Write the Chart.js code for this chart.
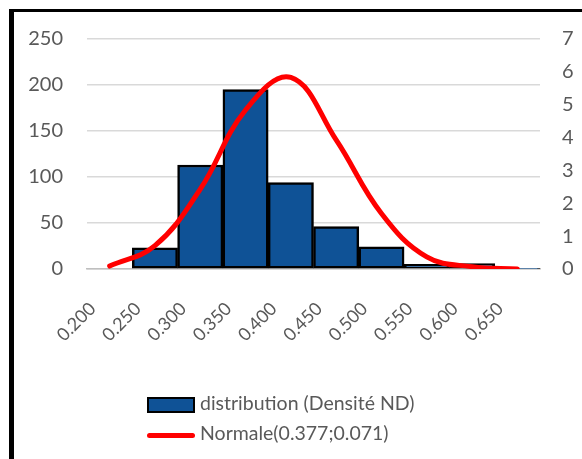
<!DOCTYPE html>
<html>
<head>
<meta charset="utf-8">
<script src="https://cdn.jsdelivr.net/npm/chart.js@4/dist/chart.umd.min.js"></script>
<style>
  body { margin: 0; background: #fff; }
  #wrap { position: relative; width: 582px; height: 459px; overflow: hidden; }
  #cadre { position: absolute; left: 9px; top: 9px; width: 600px; height: 500px;
           border-left: 5px solid #000; border-top: 3px solid #000; }
  canvas { position: absolute; left: 0; top: 0; }
  .leg { position: absolute; left: 147px; font-family: Lato, sans-serif; font-size: 19.5px; color: #595959; white-space: nowrap; }
  .boite { display: inline-block; width: 44px; height: 12px; background: #0f5296; border: 2px solid #000; vertical-align: middle; }
  .trait { display: inline-block; width: 48px; height: 5px; background: #ff0000; border-radius: 3px; vertical-align: middle; }
</style>
</head>
<body>
<div id="wrap">
  <div id="cadre"></div>
  <canvas id="histo" width="582" height="459"></canvas>
  <div class="leg" style="top:391px"><span class="boite"></span> distribution (Densité ND)</div>
  <div class="leg" style="top:421px"><span class="trait"></span> Normale(0.377;0.071)</div>
</div>
<script>
const classes = ['0.200', '0.250', '0.300', '0.350', '0.400', '0.450', '0.500', '0.550', '0.600', '0.650'];
const effectifs = [0, 23, 113, 195, 94, 46, 24, 5, 6, 0.5];
const densiteNormale = [0.09, 0.71, 2.43, 4.84, 5.83, 3.93, 1.69, 0.37, 0.07, 0.0];

const gris = '#595959';
const police = { family: 'Lato, sans-serif', size: 20 };

const ctx = document.getElementById('histo').getContext('2d');
new Chart(ctx, {
    type: 'bar',
    data: {
        labels: classes,
        datasets: [
            {
                type: 'line',
                label: 'Normale(0.377;0.071)',
                data: densiteNormale,
                yAxisID: 'y2',
                borderColor: '#ff0000',
                borderWidth: 5,
                borderCapStyle: 'round',
                pointRadius: 0,
                tension: 0.4,
                order: 0
            },
            {
                label: 'distribution (Densité ND)',
                data: effectifs,
                yAxisID: 'y',
                backgroundColor: '#0f5296',
                borderColor: '#000',
                borderWidth: 2.5,
                borderSkipped: false,
                barPercentage: 1,
                categoryPercentage: 1,
                order: 1
            }
        ]
    },
    options: {
        responsive: false,
        animation: false,
        layout: { padding: { top: 39, left: 0, right: 0, bottom: 0 } },
        plugins: { legend: { display: false }, tooltip: { enabled: false } },
        scales: {
            x: {
                grid: { display: false, drawTicks: false },
                border: { color: '#bfbfbf', width: 1.5 },
                ticks: { color: gris, font: { family: 'Lato, sans-serif', size: 18 }, minRotation: 45, maxRotation: 45, padding: 29, labelOffset: -17 },
                afterFit: s => { s.height = 190; }
            },
            y: {
                position: 'left',
                min: 0, max: 250,
                ticks: { stepSize: 50, color: gris, font: police, padding: 24 },
                grid: { color: '#d9d9d9', lineWidth: 1.5, drawTicks: false },
                border: { display: false },
                afterFit: s => { s.width = 87; }
            },
            y2: {
                position: 'right',
                min: 0, max: 7,
                ticks: { stepSize: 1, color: gris, font: police, padding: 22 },
                grid: { display: false, drawTicks: false },
                border: { display: false },
                afterFit: s => { s.width = 42; }
            }
        }
    }
});
</script>
</body>
</html>
